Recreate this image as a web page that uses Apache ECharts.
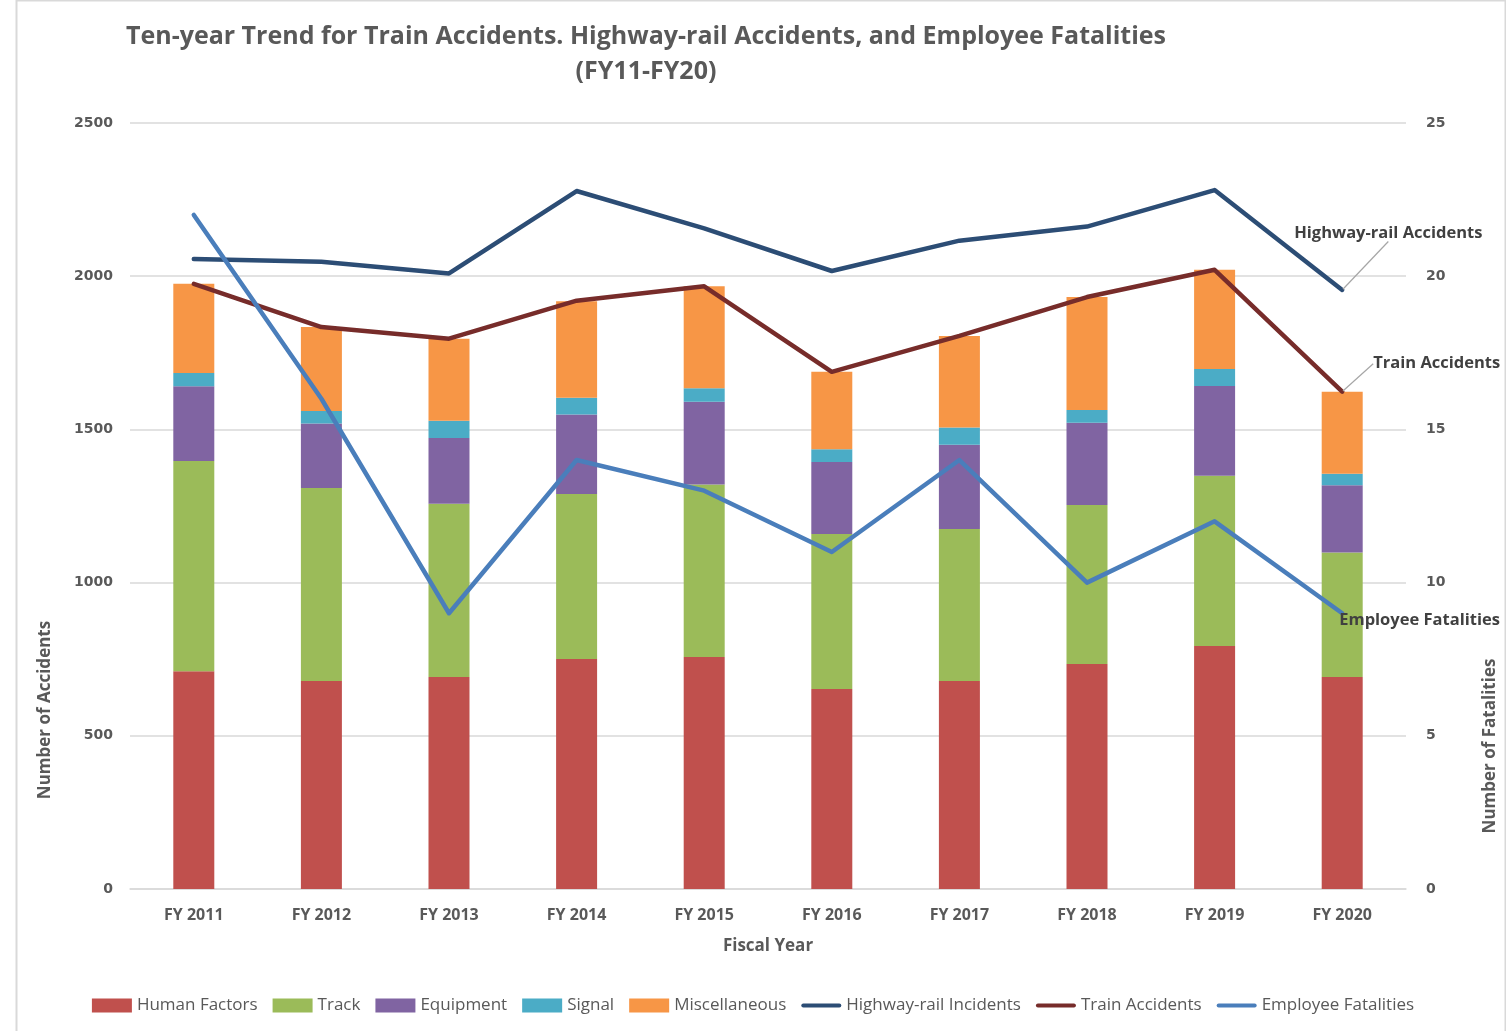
<!DOCTYPE html>
<html>
<head>
<meta charset="utf-8">
<script src="https://cdn.jsdelivr.net/npm/echarts@6/dist/echarts.min.js"></script>
<style>
  html, body { margin: 0; padding: 0; background: #fff; }
  #chart { width: 1506px; height: 1031px; }
</style>
</head>
<body>
<div id="chart"></div>
<script>
// fiscal years on the x axis
var years = ['FY 2011', 'FY 2012', 'FY 2013', 'FY 2014', 'FY 2015', 'FY 2016', 'FY 2017', 'FY 2018', 'FY 2019', 'FY 2020'];

// train accidents by cause (stacked bars)
var humanFactors  = [711, 679, 692, 751, 757, 653, 679, 734, 793, 692];
var track         = [686, 630, 565, 538, 563, 506, 496, 519, 556, 406];
var equipment     = [244, 210, 215, 260, 270, 235, 275, 269, 293, 220];
var signal        = [43, 41, 56, 54, 44, 41, 56, 41, 55, 37];
var miscellaneous = [291, 274, 268, 315, 333, 253, 299, 369, 324, 268];

// lines
var highwayRail     = [2056, 2047, 2009, 2278, 2156, 2017, 2116, 2162, 2281, 1955];
var trainAccidents  = [1975, 1834, 1796, 1920, 1967, 1688, 1805, 1932, 2021, 1623];
var empFatalities   = [22, 16, 9, 14, 13, 11, 14, 10, 12, 9];

var leftTicks = [0, 500, 1000, 1500, 2000, 2500];
var rightTicks = [0, 5, 10, 15, 20, 25];

var font = "'Open Sans', sans-serif";
var textGrey = '#595959';
var lineIcon = 'path://M2,0 L38,0 A2,2 0 0 1 38,4 L2,4 A2,2 0 0 1 2,0 Z';

// put a callout label on the last point only
function withEndLabel(arr, text, showLine) {
  return arr.map(function (v, i) {
    if (i !== arr.length - 1) return v;
    return {
      value: v,
      label: {
        show: true, position: 'right', distance: 0, formatter: text,
        fontFamily: font, fontWeight: 'bold', fontSize: 16.5, color: '#404040'
      },
      labelLine: { show: showLine, lineStyle: { color: '#a6a6a6', width: 1.2 } }
    };
  });
}

var barSeries = function (name, data, color) {
  return {
    name: name, type: 'bar', stack: 'cause', barWidth: 41,
    data: data, itemStyle: { color: color }, z: 2
  };
};

var lineSeries = function (name, data, color, yIdx) {
  return {
    name: name, type: 'line', yAxisIndex: yIdx, data: data,
    symbol: 'circle', symbolSize: 2, showAllSymbol: true, z: 5,
    lineStyle: { color: color, width: 4.5, cap: 'round', join: 'round' },
    itemStyle: { color: color }
  };
};

var hr = lineSeries('Highway-rail Incidents', withEndLabel(highwayRail, 'Highway-rail Accidents', true), '#2C4D75', 0);
hr.labelLayout = function (p) { return p.dataIndex === 9 ? { dx: -49, dy: -57 } : {}; };
var ta = lineSeries('Train Accidents', withEndLabel(trainAccidents, 'Train Accidents', true), '#772C2A', 0);
ta.labelLayout = function (p) { return p.dataIndex === 9 ? { dx: 30, dy: -28 } : {}; };
var ef = lineSeries('Employee Fatalities', withEndLabel(empFatalities, 'Employee Fatalities', false), '#4A7EBB', 1);
ef.labelLayout = function (p) { return p.dataIndex === 9 ? { dx: -4, dy: 7 } : {}; };

var chart = echarts.init(document.getElementById('chart'));
var option = {
  animation: false,
  backgroundColor: '#fff',
  title: {
    text: 'Ten-year Trend for Train Accidents. Highway-rail Accidents, and Employee Fatalities\n(FY11-FY20)',
    left: 641, top: 14, textAlign: 'center',
    textStyle: { fontFamily: font, fontWeight: 'bold', fontSize: 25, color: textGrey, lineHeight: 35 }
  },
  legend: {
    bottom: 12, left: 'center',
    itemWidth: 40, itemHeight: 14, itemGap: 15,
    textStyle: { fontFamily: font, fontSize: 17, color: textGrey },
    data: [
      { name: 'Human Factors', icon: 'rect' },
      { name: 'Track', icon: 'rect' },
      { name: 'Equipment', icon: 'rect' },
      { name: 'Signal', icon: 'rect' },
      { name: 'Miscellaneous', icon: 'rect' },
      { name: 'Highway-rail Incidents', icon: lineIcon },
      { name: 'Train Accidents', icon: lineIcon },
      { name: 'Employee Fatalities', icon: lineIcon }
    ]
  },
  grid: { left: 130, right: 100, top: 123, bottom: 142 },
  xAxis: {
    type: 'category', data: years,
    axisTick: { show: false },
    axisLine: { lineStyle: { color: '#d9d9d9', width: 1.5 } },
    axisLabel: { margin: 18, fontFamily: font, fontWeight: 'bold', fontSize: 16, color: textGrey }
  },
  yAxis: [{
    type: 'value', min: 0, max: 2500, interval: 500,
    axisLabel: { margin: 17, fontFamily: 'DejaVu Sans', fontWeight: 'bold', fontSize: 14, color: textGrey,
      formatter: function (v) { return leftTicks.indexOf(v) >= 0 ? String(v) : ''; } },
    splitLine: { lineStyle: { color: '#d9d9d9', width: 1.5 } },
    axisLine: { show: false }, axisTick: { show: false }
  }, {
    type: 'value', min: 0, max: 25, interval: 5,
    axisLabel: { margin: 20, fontFamily: 'DejaVu Sans', fontWeight: 'bold', fontSize: 14, color: textGrey,
      formatter: function (v) { return rightTicks.indexOf(v) >= 0 ? String(v) : ''; } },
    splitLine: { show: false },
    axisLine: { show: false }, axisTick: { show: false }
  }],
  graphic: [
    { type: 'rect', left: 14, top: -2, shape: { width: 1489, height: 1040 }, style: { fill: 'none', stroke: '#d9d9d9', lineWidth: 2 }, silent: true },
    { type: 'text', x: 45, y: 710, rotation: Math.PI / 2,
      style: { text: 'Number of Accidents', fontFamily: font, fontWeight: 'bold', fontSize: 17, fill: textGrey, align: 'center', verticalAlign: 'middle' } },
    { type: 'text', x: 1490, y: 746, rotation: Math.PI / 2,
      style: { text: 'Number of Fatalities', fontFamily: font, fontWeight: 'bold', fontSize: 17, fill: textGrey, align: 'center', verticalAlign: 'middle' } },
    { type: 'text', x: 768, y: 946,
      style: { text: 'Fiscal Year', fontFamily: font, fontWeight: 'bold', fontSize: 17, fill: textGrey, align: 'center', verticalAlign: 'middle' } }
  ],
  series: [
    barSeries('Human Factors', humanFactors, '#C0504D'),
    barSeries('Track', track, '#9BBB59'),
    barSeries('Equipment', equipment, '#8064A2'),
    barSeries('Signal', signal, '#4BACC6'),
    barSeries('Miscellaneous', miscellaneous, '#F79646'),
    hr, ta, ef
  ]
};
chart.setOption(option);
</script>
</body>
</html>
